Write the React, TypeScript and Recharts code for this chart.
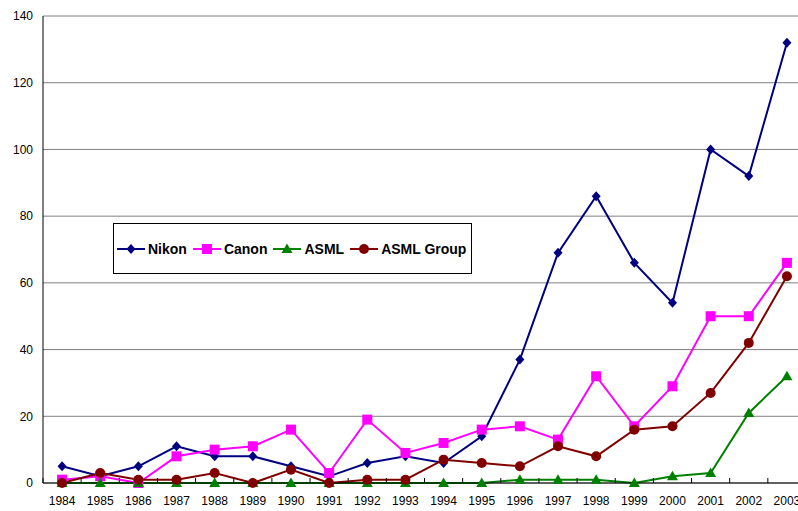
import { LineChart, Line, XAxis, YAxis, CartesianGrid } from 'recharts'

const years = ['1984', '1985', '1986', '1987', '1988', '1989', '1990', '1991', '1992', '1993',
  '1994', '1995', '1996', '1997', '1998', '1999', '2000', '2001', '2002', '2003']
const nikon = [5, 2, 5, 11, 8, 8, 5, 2, 6, 8, 6, 14, 37, 69, 86, 66, 54, 100, 92, 132]
const canon = [1, 2, 0, 8, 10, 11, 16, 3, 19, 9, 12, 16, 17, 13, 32, 17, 29, 50, 50, 66]
const asml = [0, 0, 0, 0, 0, 0, 0, 0, 0, 0, 0, 0, 1, 1, 1, 0, 2, 3, 21, 32]
const asmlGroup = [0, 3, 1, 1, 3, 0, 4, 0, 1, 1, 7, 6, 5, 11, 8, 16, 17, 27, 42, 62]
const yTicks = [0, 20, 40, 60, 80, 100, 120, 140]

const data = years.map((year, i) => ({
  year,
  nikon: nikon[i],
  canon: canon[i],
  asml: asml[i],
  asmlGroup: asmlGroup[i],
}))

const series = [
  { key: 'nikon', name: 'Nikon', color: '#000080', shape: 'diamond' },
  { key: 'canon', name: 'Canon', color: '#ff00ff', shape: 'square' },
  { key: 'asml', name: 'ASML', color: '#008000', shape: 'triangle' },
  { key: 'asmlGroup', name: 'ASML Group', color: '#800000', shape: 'circle' },
]

const CHART_W = 806
const CHART_H = 511
const Y_W = 43
const BAND = (CHART_W - Y_W) / years.length
const FONT = '"Liberation Sans", Arial, sans-serif'

function Marker({ shape, cx, cy, color }: { shape: string; cx: number; cy: number; color: string }) {
  if (shape === 'diamond')
    return <polygon points={`${cx},${cy - 5} ${cx + 4.5},${cy} ${cx},${cy + 5} ${cx - 4.5},${cy}`} fill={color} />
  if (shape === 'square')
    return <rect x={cx - 5} y={cy - 5} width={10} height={10} fill={color} />
  if (shape === 'triangle')
    return <polygon points={`${cx},${cy - 5.5} ${cx + 5.5},${cy + 4} ${cx - 5.5},${cy + 4}`} fill={color} />
  return <circle cx={cx} cy={cy} r={5} fill={color} />
}

function dotFor(shape: string, color: string) {
  return (props: any) => {
    const { cx, cy, index } = props
    if (cx == null || cy == null) return <g key={index} />
    return <Marker key={index} shape={shape} cx={cx} cy={cy} color={color} />
  }
}

function YearTick({ x, y, payload }: any) {
  return (
    <g>
      <line x1={x - BAND / 2} x2={x - BAND / 2} y1={y - 5} y2={y} stroke="#000" />
      <text x={x} y={y + 22} textAnchor="middle" fontSize={12} fill="#000" fontFamily={FONT}>
        {payload.value}
      </text>
    </g>
  )
}

function LegendBox() {
  return (
    <div
      style={{
        position: 'absolute',
        left: 113,
        top: 223,
        width: 359,
        height: 51,
        border: '1px solid #000',
        background: '#fff',
        display: 'flex',
        alignItems: 'center',
        paddingLeft: 3,
        boxSizing: 'border-box',
        whiteSpace: 'nowrap',
        fontFamily: FONT,
        fontWeight: 'bold',
        fontSize: 14,
        color: '#000',
      }}
    >
      {series.map((s) => (
        <div key={s.key} style={{ display: 'flex', alignItems: 'center', marginRight: 6 }}>
          <svg width={28} height={12} style={{ marginRight: 3 }}>
            <line x1={0} x2={28} y1={6} y2={6} stroke={s.color} strokeWidth={2} />
            <Marker shape={s.shape} cx={14} cy={6} color={s.color} />
          </svg>
          <span>{s.name}</span>
        </div>
      ))}
    </div>
  )
}

export default function App() {
  return (
    <div style={{ position: 'absolute', left: 0, top: 0, width: 798, height: 511, overflow: 'hidden', background: '#fff' }}>
      <LineChart
        width={CHART_W}
        height={CHART_H}
        data={data}
        margin={{ top: 16, right: 0, left: 0, bottom: 0 }}
      >
        <CartesianGrid horizontal vertical={false} stroke="#808080" />
        <XAxis
          dataKey="year"
          height={28}
          padding={{ left: BAND / 2, right: BAND / 2 }}
          axisLine={{ stroke: '#000' }}
          tickLine={false}
          tickSize={0}
          tickMargin={0}
          interval={0}
          tick={<YearTick />}
        />
        <YAxis
          width={Y_W}
          domain={[0, 140]}
          ticks={yTicks}
          axisLine={{ stroke: '#000' }}
          tickLine={false}
          tickSize={4}
          tickMargin={6}
          tick={{ fontSize: 12, fill: '#000', fontFamily: FONT }}
        />
        {series.map((s) => (
          <Line
            key={s.key}
            dataKey={s.key}
            name={s.name}
            stroke={s.color}
            strokeWidth={2}
            dot={dotFor(s.shape, s.color)}
            activeDot={false}
            isAnimationActive={false}
          />
        ))}
      </LineChart>
      <LegendBox />
    </div>
  )
}
